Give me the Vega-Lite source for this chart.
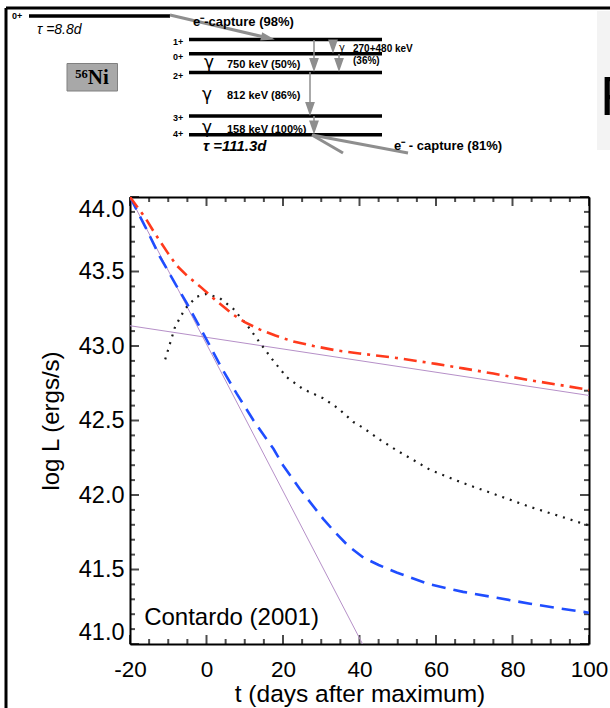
{
  "$schema": "https://vega.github.io/schema/vega-lite/v6.json",
  "autosize": "none",
  "padding": {"left": 130, "top": 197, "right": 21, "bottom": 64},
  "width": 459,
  "height": 447,
  "background": "white",
  "config": {"view": {"stroke": null}, "font": "Liberation Sans", "axis": {"grid": false}},
  "datasets": {
    "curves": [
      {"s": "ni", "t": -20, "L": 44.0}, {"s": "ni", "t": 40.8, "L": 41.0},
      {"s": "co", "t": -20, "L": 43.136}, {"s": "co", "t": 100, "L": 42.668},
      {"s": "tot", "t": -20, "L": 44.0}, {"s": "tot", "t": -16, "L": 43.86}, {"s": "tot", "t": -13.5, "L": 43.755},
      {"s": "tot", "t": -10, "L": 43.62}, {"s": "tot", "t": -7.8, "L": 43.54}, {"s": "tot", "t": -5, "L": 43.47},
      {"s": "tot", "t": -1.7, "L": 43.4}, {"s": "tot", "t": 2.7, "L": 43.3}, {"s": "tot", "t": 7, "L": 43.21},
      {"s": "tot", "t": 10, "L": 43.16}, {"s": "tot", "t": 14, "L": 43.11}, {"s": "tot", "t": 18, "L": 43.07},
      {"s": "tot", "t": 22.7, "L": 43.03}, {"s": "tot", "t": 28, "L": 43.0}, {"s": "tot", "t": 34, "L": 42.97},
      {"s": "tot", "t": 40, "L": 42.95}, {"s": "tot", "t": 49.7, "L": 42.92}, {"s": "tot", "t": 60, "L": 42.88},
      {"s": "tot", "t": 67.1, "L": 42.85}, {"s": "tot", "t": 75, "L": 42.815}, {"s": "tot", "t": 84.6, "L": 42.77},
      {"s": "tot", "t": 92, "L": 42.74}, {"s": "tot", "t": 100, "L": 42.705},
      {"s": "gam", "t": -20, "L": 44.0}, {"s": "gam", "t": -16, "L": 43.8}, {"s": "gam", "t": -12.2, "L": 43.6},
      {"s": "gam", "t": -8, "L": 43.41}, {"s": "gam", "t": -5.2, "L": 43.29}, {"s": "gam", "t": 0.5, "L": 43.02},
      {"s": "gam", "t": 4, "L": 42.85}, {"s": "gam", "t": 7.9, "L": 42.68}, {"s": "gam", "t": 12.3, "L": 42.5},
      {"s": "gam", "t": 17.5, "L": 42.31}, {"s": "gam", "t": 20, "L": 42.2}, {"s": "gam", "t": 24.4, "L": 42.04},
      {"s": "gam", "t": 30.5, "L": 41.84}, {"s": "gam", "t": 33.6, "L": 41.75}, {"s": "gam", "t": 37, "L": 41.66},
      {"s": "gam", "t": 41, "L": 41.58}, {"s": "gam", "t": 45, "L": 41.53}, {"s": "gam", "t": 49.7, "L": 41.48},
      {"s": "gam", "t": 58.4, "L": 41.4}, {"s": "gam", "t": 67.1, "L": 41.35}, {"s": "gam", "t": 75.9, "L": 41.31},
      {"s": "gam", "t": 84.6, "L": 41.27}, {"s": "gam", "t": 92, "L": 41.24}, {"s": "gam", "t": 100, "L": 41.21},
      {"s": "bol", "t": -10.8, "L": 42.91}, {"s": "bol", "t": -9.5, "L": 43.02}, {"s": "bol", "t": -8.2, "L": 43.13},
      {"s": "bol", "t": -5.6, "L": 43.25}, {"s": "bol", "t": -2.6, "L": 43.33}, {"s": "bol", "t": 0, "L": 43.35},
      {"s": "bol", "t": 3.5, "L": 43.32}, {"s": "bol", "t": 7, "L": 43.25}, {"s": "bol", "t": 10.9, "L": 43.13},
      {"s": "bol", "t": 14, "L": 43.02}, {"s": "bol", "t": 17.5, "L": 42.9}, {"s": "bol", "t": 21, "L": 42.79},
      {"s": "bol", "t": 25.3, "L": 42.71}, {"s": "bol", "t": 30.5, "L": 42.65}, {"s": "bol", "t": 34.5, "L": 42.58},
      {"s": "bol", "t": 38.4, "L": 42.49}, {"s": "bol", "t": 41, "L": 42.45}, {"s": "bol", "t": 45.4, "L": 42.37},
      {"s": "bol", "t": 49.7, "L": 42.3}, {"s": "bol", "t": 58.4, "L": 42.17}, {"s": "bol", "t": 67.1, "L": 42.08},
      {"s": "bol", "t": 75.9, "L": 42.0}, {"s": "bol", "t": 84.6, "L": 41.92}, {"s": "bol", "t": 93.3, "L": 41.85},
      {"s": "bol", "t": 100, "L": 41.795}
    ],
    "xmaj": [{"t": -20, "Lb": 41, "Lt": 44}, {"t": 0, "Lb": 41, "Lt": 44}, {"t": 20, "Lb": 41, "Lt": 44}, {"t": 40, "Lb": 41, "Lt": 44},
      {"t": 60, "Lb": 41, "Lt": 44}, {"t": 80, "Lb": 41, "Lt": 44}, {"t": 100, "Lb": 41, "Lt": 44}],
    "xmin": [{"t": -15, "Lb": 41, "Lt": 44}, {"t": -10, "Lb": 41, "Lt": 44}, {"t": -5, "Lb": 41, "Lt": 44},
      {"t": 5, "Lb": 41, "Lt": 44}, {"t": 10, "Lb": 41, "Lt": 44}, {"t": 15, "Lb": 41, "Lt": 44},
      {"t": 25, "Lb": 41, "Lt": 44}, {"t": 30, "Lb": 41, "Lt": 44}, {"t": 35, "Lb": 41, "Lt": 44},
      {"t": 45, "Lb": 41, "Lt": 44}, {"t": 50, "Lb": 41, "Lt": 44}, {"t": 55, "Lb": 41, "Lt": 44},
      {"t": 65, "Lb": 41, "Lt": 44}, {"t": 70, "Lb": 41, "Lt": 44}, {"t": 75, "Lb": 41, "Lt": 44},
      {"t": 85, "Lb": 41, "Lt": 44}, {"t": 90, "Lb": 41, "Lt": 44}, {"t": 95, "Lb": 41, "Lt": 44}],
    "ymaj": [{"L": 41.0, "tl": -20, "tr": 100}, {"L": 41.5, "tl": -20, "tr": 100}, {"L": 42.0, "tl": -20, "tr": 100},
      {"L": 42.5, "tl": -20, "tr": 100}, {"L": 43.0, "tl": -20, "tr": 100}, {"L": 43.5, "tl": -20, "tr": 100},
      {"L": 44.0, "tl": -20, "tr": 100}],
    "ymin": [{"L": 41.1, "tl": -20, "tr": 100}, {"L": 41.2, "tl": -20, "tr": 100}, {"L": 41.3, "tl": -20, "tr": 100},
      {"L": 41.4, "tl": -20, "tr": 100}, {"L": 41.6, "tl": -20, "tr": 100}, {"L": 41.7, "tl": -20, "tr": 100},
      {"L": 41.8, "tl": -20, "tr": 100}, {"L": 41.9, "tl": -20, "tr": 100}, {"L": 42.1, "tl": -20, "tr": 100},
      {"L": 42.2, "tl": -20, "tr": 100}, {"L": 42.3, "tl": -20, "tr": 100}, {"L": 42.4, "tl": -20, "tr": 100},
      {"L": 42.6, "tl": -20, "tr": 100}, {"L": 42.7, "tl": -20, "tr": 100}, {"L": 42.8, "tl": -20, "tr": 100},
      {"L": 42.9, "tl": -20, "tr": 100}, {"L": 43.1, "tl": -20, "tr": 100}, {"L": 43.2, "tl": -20, "tr": 100},
      {"L": 43.3, "tl": -20, "tr": 100}, {"L": 43.4, "tl": -20, "tr": 100}, {"L": 43.6, "tl": -20, "tr": 100},
      {"L": 43.7, "tl": -20, "tr": 100}, {"L": 43.8, "tl": -20, "tr": 100}, {"L": 43.9, "tl": -20, "tr": 100}],
    "notes": [{"t": -16.3, "L": 41.13, "label": "Contardo (2001)"}],
    "levels": [
      {"dx": 29, "dy": 16, "dx2": 170, "dy2": 16},
      {"dx": 189, "dy": 39.5, "dx2": 382, "dy2": 39.5},
      {"dx": 189, "dy": 53.7, "dx2": 382, "dy2": 53.7},
      {"dx": 189, "dy": 72.5, "dx2": 382, "dy2": 72.5},
      {"dx": 189, "dy": 116, "dx2": 382, "dy2": 116},
      {"dx": 189, "dy": 134.7, "dx2": 382, "dy2": 134.7}
    ],
    "frame": [
      {"dx": 6, "dy": 8, "dx2": 612, "dy2": 8},
      {"dx": 6, "dy": 8, "dx2": 6, "dy2": 710}
    ],
    "thin": [
      {"dx": 314, "dy": 40, "dx2": 314, "dy2": 62},
      {"dx": 333, "dy": 40, "dx2": 333, "dy2": 45},
      {"dx": 339, "dy": 54, "dx2": 339, "dy2": 62},
      {"dx": 310, "dy": 72, "dx2": 310, "dy2": 104},
      {"dx": 314, "dy": 116, "dx2": 314, "dy2": 124}
    ],
    "thick": [
      {"dx": 170, "dy": 15, "dx2": 262, "dy2": 36.5},
      {"dx": 312, "dy": 135, "dx2": 343, "dy2": 153},
      {"dx": 312, "dy": 135, "dx2": 408, "dy2": 153}
    ],
    "heads": [
      {"dx": 314, "dy": 65}, {"dx": 333, "dy": 46.5}, {"dx": 339, "dy": 65},
      {"dx": 310, "dy": 109}, {"dx": 314, "dy": 127.5}
    ],
    "diag": [{"dx": 268, "dy": 38}],
    "boxes": [{"dx": 67, "dy": 63.5, "dx2": 117.5, "dy2": 91}],
    "panel": [{"dx": 597, "dy": 11, "dx2": 612, "dy2": 150}],
    "texts": [
      {"g": "lvl", "dx": 17, "dy": 15.5, "txt": "0+"},
      {"g": "lvl", "dx": 178, "dy": 42, "txt": "1+"},
      {"g": "lvl", "dx": 178, "dy": 57, "txt": "0+"},
      {"g": "lvl", "dx": 178, "dy": 76, "txt": "2+"},
      {"g": "lvl", "dx": 178, "dy": 118, "txt": "3+"},
      {"g": "lvl", "dx": 178, "dy": 133.5, "txt": "4+"},
      {"g": "gam", "dx": 209, "dy": 63, "txt": "γ"},
      {"g": "gam", "dx": 207, "dy": 95, "txt": "γ"},
      {"g": "gam", "dx": 207, "dy": 127.5, "txt": "γ"},
      {"g": "gams", "dx": 342, "dy": 48, "txt": "γ"},
      {"g": "en", "dx": 227, "dy": 65, "txt": "750 keV (50%)"},
      {"g": "en", "dx": 227, "dy": 96, "txt": "812 keV (86%)"},
      {"g": "en", "dx": 227, "dy": 129.5, "txt": "158 keV (100%)"},
      {"g": "ens", "dx": 353, "dy": 48.5, "txt": "270+480 keV"},
      {"g": "ens", "dx": 353, "dy": 61, "txt": "(36%)"},
      {"g": "cap", "dx": 193, "dy": 22, "txt": "e⁻-capture (98%)"},
      {"g": "cap", "dx": 394, "dy": 146, "txt": "e⁻ - capture (81%)"},
      {"g": "tau1", "dx": 37, "dy": 30, "txt": "τ  =8.8d"},
      {"g": "tau2", "dx": 203, "dy": 145.5, "txt": "τ  =111.3d"},
      {"g": "ni", "dx": 92, "dy": 77.5, "txt": "⁵⁶Ni"},
      {"g": "big", "dx": 600, "dy": 115, "txt": "F"}
    ]
  },
  "layer": [
    {
      "data": {"name": "curves"},
      "mark": {"type": "point", "opacity": 0},
      "encoding": {
        "x": {"field": "t", "type": "quantitative", "scale": {"domain": [-20, 100], "nice": false, "zero": false},
          "axis": {"orient": "bottom", "values": [-20, 0, 20, 40, 60, 80, 100],
            "labelExpr": "'' + datum.value", "ticks": false, "labelFlush": false,
            "domainColor": "#000", "domainWidth": 2,
            "labelColor": "#000", "labelFontSize": 22.5, "labelPadding": 14, "labelOverlap": false, "labelFont": "Liberation Sans",
            "title": "t (days after maximum)", "titleFontSize": 24.5, "titleFontWeight": "normal", "titleColor": "#000", "titleFont": "Liberation Sans", "titlePadding": 2}},
        "y": {"field": "L", "type": "quantitative", "scale": {"domain": [41, 44], "nice": false, "zero": false},
          "axis": {"orient": "left", "values": [41.0, 41.5, 42.0, 42.5, 43.0, 43.5, 44.0],
            "labelExpr": "format(datum.value, '.1f')", "ticks": false,
            "domainColor": "#000", "domainWidth": 2,
            "labelColor": "#000", "labelFontSize": 23.5, "labelPadding": 6, "labelOverlap": false, "labelFlush": true, "labelFont": "Liberation Sans",
            "title": "log L (ergs/s)", "titleFontSize": 24, "titleFontWeight": "normal", "titleColor": "#000", "titleFont": "Liberation Sans", "titlePadding": 15}}
      }
    },
    {
      "data": {"name": "curves"},
      "mark": {"type": "point", "opacity": 0},
      "encoding": {
        "x": {"field": "t", "type": "quantitative", "scale": {"domain": [-20, 100], "nice": false, "zero": false},
          "axis": {"orient": "top", "values": [-20, 100], "labels": false, "title": null, "ticks": false,
            "domainColor": "#000", "domainWidth": 2}},
        "y": {"field": "L", "type": "quantitative", "scale": {"domain": [41, 44], "nice": false, "zero": false},
          "axis": {"orient": "right", "values": [41, 44], "labels": false, "title": null, "ticks": false,
            "domainColor": "#000", "domainWidth": 2}}
      }
    },
    {
      "data": {"name": "xmaj"},
      "mark": {"type": "tick", "orient": "vertical", "color": "#000", "thickness": 2, "size": 9, "yOffset": -4.5},
      "encoding": {
        "x": {"field": "t", "type": "quantitative", "scale": {"domain": [-20, 100], "nice": false, "zero": false}, "axis": null},
        "y": {"field": "Lb", "type": "quantitative", "scale": {"domain": [41, 44], "nice": false, "zero": false}, "axis": null}
      }
    },
    {
      "data": {"name": "xmaj"},
      "mark": {"type": "tick", "orient": "vertical", "color": "#000", "thickness": 2, "size": 9, "yOffset": 4.5},
      "encoding": {
        "x": {"field": "t", "type": "quantitative", "scale": {"domain": [-20, 100], "nice": false, "zero": false}, "axis": null},
        "y": {"field": "Lt", "type": "quantitative", "scale": {"domain": [41, 44], "nice": false, "zero": false}, "axis": null}
      }
    },
    {
      "data": {"name": "xmin"},
      "mark": {"type": "tick", "orient": "vertical", "color": "#000", "thickness": 2, "size": 5, "yOffset": -2.5},
      "encoding": {
        "x": {"field": "t", "type": "quantitative", "scale": {"domain": [-20, 100], "nice": false, "zero": false}, "axis": null},
        "y": {"field": "Lb", "type": "quantitative", "scale": {"domain": [41, 44], "nice": false, "zero": false}, "axis": null}
      }
    },
    {
      "data": {"name": "xmin"},
      "mark": {"type": "tick", "orient": "vertical", "color": "#000", "thickness": 2, "size": 5, "yOffset": 2.5},
      "encoding": {
        "x": {"field": "t", "type": "quantitative", "scale": {"domain": [-20, 100], "nice": false, "zero": false}, "axis": null},
        "y": {"field": "Lt", "type": "quantitative", "scale": {"domain": [41, 44], "nice": false, "zero": false}, "axis": null}
      }
    },
    {
      "data": {"name": "ymaj"},
      "mark": {"type": "tick", "orient": "horizontal", "color": "#000", "thickness": 2, "size": 9, "xOffset": 4.5},
      "encoding": {
        "y": {"field": "L", "type": "quantitative", "scale": {"domain": [41, 44], "nice": false, "zero": false}, "axis": null},
        "x": {"field": "tl", "type": "quantitative", "scale": {"domain": [-20, 100], "nice": false, "zero": false}, "axis": null}
      }
    },
    {
      "data": {"name": "ymaj"},
      "mark": {"type": "tick", "orient": "horizontal", "color": "#000", "thickness": 2, "size": 9, "xOffset": -4.5},
      "encoding": {
        "y": {"field": "L", "type": "quantitative", "scale": {"domain": [41, 44], "nice": false, "zero": false}, "axis": null},
        "x": {"field": "tr", "type": "quantitative", "scale": {"domain": [-20, 100], "nice": false, "zero": false}, "axis": null}
      }
    },
    {
      "data": {"name": "ymin"},
      "mark": {"type": "tick", "orient": "horizontal", "color": "#000", "thickness": 2, "size": 5, "xOffset": 2.5},
      "encoding": {
        "y": {"field": "L", "type": "quantitative", "scale": {"domain": [41, 44], "nice": false, "zero": false}, "axis": null},
        "x": {"field": "tl", "type": "quantitative", "scale": {"domain": [-20, 100], "nice": false, "zero": false}, "axis": null}
      }
    },
    {
      "data": {"name": "ymin"},
      "mark": {"type": "tick", "orient": "horizontal", "color": "#000", "thickness": 2, "size": 5, "xOffset": -2.5},
      "encoding": {
        "y": {"field": "L", "type": "quantitative", "scale": {"domain": [41, 44], "nice": false, "zero": false}, "axis": null},
        "x": {"field": "tr", "type": "quantitative", "scale": {"domain": [-20, 100], "nice": false, "zero": false}, "axis": null}
      }
    },
    {
      "data": {"name": "curves"},
      "transform": [{"filter": "datum.s === 'ni' || datum.s === 'co'"}],
      "mark": {"type": "line", "color": "#b690c8", "strokeWidth": 1, "clip": true},
      "encoding": {
        "x": {"field": "t", "type": "quantitative", "scale": {"domain": [-20, 100], "nice": false, "zero": false}, "axis": null},
        "y": {"field": "L", "type": "quantitative", "scale": {"domain": [41, 44], "nice": false, "zero": false}, "axis": null},
        "detail": {"field": "s"}
      }
    },
    {
      "data": {"name": "curves"},
      "transform": [{"filter": "datum.s === 'bol'"}],
      "mark": {"type": "line", "color": "#1a1a1a", "strokeWidth": 2.2, "strokeDash": [2, 6], "clip": true},
      "encoding": {
        "x": {"field": "t", "type": "quantitative", "scale": {"domain": [-20, 100], "nice": false, "zero": false}, "axis": null},
        "y": {"field": "L", "type": "quantitative", "scale": {"domain": [41, 44], "nice": false, "zero": false}, "axis": null}
      }
    },
    {
      "data": {"name": "curves"},
      "transform": [{"filter": "datum.s === 'gam'"}],
      "mark": {"type": "line", "color": "#1f4dff", "strokeWidth": 2.6, "strokeDash": [14, 8], "clip": true},
      "encoding": {
        "x": {"field": "t", "type": "quantitative", "scale": {"domain": [-20, 100], "nice": false, "zero": false}, "axis": null},
        "y": {"field": "L", "type": "quantitative", "scale": {"domain": [41, 44], "nice": false, "zero": false}, "axis": null}
      }
    },
    {
      "data": {"name": "curves"},
      "transform": [{"filter": "datum.s === 'tot'"}],
      "mark": {"type": "line", "color": "#ff3a1c", "strokeWidth": 2.6, "strokeDash": [13, 6, 3, 6], "clip": true},
      "encoding": {
        "x": {"field": "t", "type": "quantitative", "scale": {"domain": [-20, 100], "nice": false, "zero": false}, "axis": null},
        "y": {"field": "L", "type": "quantitative", "scale": {"domain": [41, 44], "nice": false, "zero": false}, "axis": null}
      }
    },
    {
      "data": {"name": "notes"},
      "mark": {"type": "text", "align": "left", "baseline": "alphabetic", "fontSize": 24, "font": "Liberation Sans", "color": "#000"},
      "encoding": {
        "x": {"field": "t", "type": "quantitative", "scale": {"domain": [-20, 100], "nice": false, "zero": false}, "axis": null},
        "y": {"field": "L", "type": "quantitative", "scale": {"domain": [41, 44], "nice": false, "zero": false}, "axis": null},
        "text": {"field": "label"}
      }
    },
    {
      "data": {"name": "panel"},
      "mark": {"type": "rect", "color": "#f3f3f3"},
      "encoding": {
        "x": {"field": "dx", "type": "quantitative", "scale": {"domain": [130, 589], "nice": false, "zero": false}, "axis": null},
        "x2": {"field": "dx2"},
        "y": {"field": "dy", "type": "quantitative", "scale": {"domain": [197, 644], "reverse": true, "nice": false, "zero": false}, "axis": null},
        "y2": {"field": "dy2"}
      }
    },
    {
      "data": {"name": "boxes"},
      "mark": {"type": "rect", "color": "#a8a8a8", "stroke": "#808080", "strokeWidth": 1},
      "encoding": {
        "x": {"field": "dx", "type": "quantitative", "scale": {"domain": [130, 589], "nice": false, "zero": false}, "axis": null},
        "x2": {"field": "dx2"},
        "y": {"field": "dy", "type": "quantitative", "scale": {"domain": [197, 644], "reverse": true, "nice": false, "zero": false}, "axis": null},
        "y2": {"field": "dy2"}
      }
    },
    {
      "data": {"name": "levels"},
      "mark": {"type": "rule", "color": "#000", "strokeWidth": 3.5},
      "encoding": {
        "x": {"field": "dx", "type": "quantitative", "scale": {"domain": [130, 589], "nice": false, "zero": false}, "axis": null},
        "x2": {"field": "dx2"},
        "y": {"field": "dy", "type": "quantitative", "scale": {"domain": [197, 644], "reverse": true, "nice": false, "zero": false}, "axis": null},
        "y2": {"field": "dy2"}
      }
    },
    {
      "data": {"name": "frame"},
      "mark": {"type": "rule", "color": "#000", "strokeWidth": 3},
      "encoding": {
        "x": {"field": "dx", "type": "quantitative", "scale": {"domain": [130, 589], "nice": false, "zero": false}, "axis": null},
        "x2": {"field": "dx2"},
        "y": {"field": "dy", "type": "quantitative", "scale": {"domain": [197, 644], "reverse": true, "nice": false, "zero": false}, "axis": null},
        "y2": {"field": "dy2"}
      }
    },
    {
      "data": {"name": "thin"},
      "mark": {"type": "rule", "color": "#8e8e8e", "strokeWidth": 1.5},
      "encoding": {
        "x": {"field": "dx", "type": "quantitative", "scale": {"domain": [130, 589], "nice": false, "zero": false}, "axis": null},
        "x2": {"field": "dx2"},
        "y": {"field": "dy", "type": "quantitative", "scale": {"domain": [197, 644], "reverse": true, "nice": false, "zero": false}, "axis": null},
        "y2": {"field": "dy2"}
      }
    },
    {
      "data": {"name": "thick"},
      "mark": {"type": "rule", "color": "#8e8e8e", "strokeWidth": 3},
      "encoding": {
        "x": {"field": "dx", "type": "quantitative", "scale": {"domain": [130, 589], "nice": false, "zero": false}, "axis": null},
        "x2": {"field": "dx2"},
        "y": {"field": "dy", "type": "quantitative", "scale": {"domain": [197, 644], "reverse": true, "nice": false, "zero": false}, "axis": null},
        "y2": {"field": "dy2"}
      }
    },
    {
      "data": {"name": "heads"},
      "mark": {"type": "point", "filled": true, "shape": "M-0.7,-1L0.7,-1L0,1Z", "size": 196, "color": "#8e8e8e", "opacity": 1},
      "encoding": {
        "x": {"field": "dx", "type": "quantitative", "scale": {"domain": [130, 589], "nice": false, "zero": false}, "axis": null},
        "y": {"field": "dy", "type": "quantitative", "scale": {"domain": [197, 644], "reverse": true, "nice": false, "zero": false}, "axis": null}
      }
    },
    {
      "data": {"name": "diag"},
      "mark": {"type": "point", "filled": true, "shape": "M-1,-0.6L1,0L-1,0.6Z", "size": 196, "angle": 13.4, "color": "#8e8e8e", "opacity": 1},
      "encoding": {
        "x": {"field": "dx", "type": "quantitative", "scale": {"domain": [130, 589], "nice": false, "zero": false}, "axis": null},
        "y": {"field": "dy", "type": "quantitative", "scale": {"domain": [197, 644], "reverse": true, "nice": false, "zero": false}, "axis": null}
      }
    },
    {
      "data": {"name": "texts"},
      "transform": [{"filter": "datum.g === 'lvl'"}],
      "mark": {"type": "text", "fontSize": 9, "fontWeight": "bold", "align": "center", "baseline": "middle", "color": "#000"},
      "encoding": {
        "x": {"field": "dx", "type": "quantitative", "scale": {"domain": [130, 589], "nice": false, "zero": false}, "axis": null},
        "y": {"field": "dy", "type": "quantitative", "scale": {"domain": [197, 644], "reverse": true, "nice": false, "zero": false}, "axis": null},
        "text": {"field": "txt"}
      }
    },
    {
      "data": {"name": "texts"},
      "transform": [{"filter": "datum.g === 'gam'"}],
      "mark": {"type": "text", "fontSize": 17, "font": "DejaVu Sans", "align": "center", "baseline": "middle", "color": "#000"},
      "encoding": {
        "x": {"field": "dx", "type": "quantitative", "scale": {"domain": [130, 589], "nice": false, "zero": false}, "axis": null},
        "y": {"field": "dy", "type": "quantitative", "scale": {"domain": [197, 644], "reverse": true, "nice": false, "zero": false}, "axis": null},
        "text": {"field": "txt"}
      }
    },
    {
      "data": {"name": "texts"},
      "transform": [{"filter": "datum.g === 'gams'"}],
      "mark": {"type": "text", "fontSize": 10, "font": "DejaVu Sans", "align": "center", "baseline": "middle", "color": "#000"},
      "encoding": {
        "x": {"field": "dx", "type": "quantitative", "scale": {"domain": [130, 589], "nice": false, "zero": false}, "axis": null},
        "y": {"field": "dy", "type": "quantitative", "scale": {"domain": [197, 644], "reverse": true, "nice": false, "zero": false}, "axis": null},
        "text": {"field": "txt"}
      }
    },
    {
      "data": {"name": "texts"},
      "transform": [{"filter": "datum.g === 'en'"}],
      "mark": {"type": "text", "fontSize": 11, "fontWeight": "bold", "align": "left", "baseline": "middle", "color": "#000"},
      "encoding": {
        "x": {"field": "dx", "type": "quantitative", "scale": {"domain": [130, 589], "nice": false, "zero": false}, "axis": null},
        "y": {"field": "dy", "type": "quantitative", "scale": {"domain": [197, 644], "reverse": true, "nice": false, "zero": false}, "axis": null},
        "text": {"field": "txt"}
      }
    },
    {
      "data": {"name": "texts"},
      "transform": [{"filter": "datum.g === 'ens'"}],
      "mark": {"type": "text", "fontSize": 10, "fontWeight": "bold", "align": "left", "baseline": "middle", "color": "#000"},
      "encoding": {
        "x": {"field": "dx", "type": "quantitative", "scale": {"domain": [130, 589], "nice": false, "zero": false}, "axis": null},
        "y": {"field": "dy", "type": "quantitative", "scale": {"domain": [197, 644], "reverse": true, "nice": false, "zero": false}, "axis": null},
        "text": {"field": "txt"}
      }
    },
    {
      "data": {"name": "texts"},
      "transform": [{"filter": "datum.g === 'cap'"}],
      "mark": {"type": "text", "fontSize": 13, "fontWeight": "bold", "align": "left", "baseline": "middle", "color": "#000"},
      "encoding": {
        "x": {"field": "dx", "type": "quantitative", "scale": {"domain": [130, 589], "nice": false, "zero": false}, "axis": null},
        "y": {"field": "dy", "type": "quantitative", "scale": {"domain": [197, 644], "reverse": true, "nice": false, "zero": false}, "axis": null},
        "text": {"field": "txt"}
      }
    },
    {
      "data": {"name": "texts"},
      "transform": [{"filter": "datum.g === 'tau1'"}],
      "mark": {"type": "text", "fontSize": 14, "fontStyle": "italic", "align": "left", "baseline": "middle", "color": "#000"},
      "encoding": {
        "x": {"field": "dx", "type": "quantitative", "scale": {"domain": [130, 589], "nice": false, "zero": false}, "axis": null},
        "y": {"field": "dy", "type": "quantitative", "scale": {"domain": [197, 644], "reverse": true, "nice": false, "zero": false}, "axis": null},
        "text": {"field": "txt"}
      }
    },
    {
      "data": {"name": "texts"},
      "transform": [{"filter": "datum.g === 'tau2'"}],
      "mark": {"type": "text", "fontSize": 15, "fontStyle": "italic", "fontWeight": "bold", "align": "left", "baseline": "middle", "color": "#000"},
      "encoding": {
        "x": {"field": "dx", "type": "quantitative", "scale": {"domain": [130, 589], "nice": false, "zero": false}, "axis": null},
        "y": {"field": "dy", "type": "quantitative", "scale": {"domain": [197, 644], "reverse": true, "nice": false, "zero": false}, "axis": null},
        "text": {"field": "txt"}
      }
    },
    {
      "data": {"name": "texts"},
      "transform": [{"filter": "datum.g === 'ni'"}],
      "mark": {"type": "text", "fontSize": 21, "font": "Liberation Serif", "fontWeight": "bold", "align": "center", "baseline": "middle", "color": "#000"},
      "encoding": {
        "x": {"field": "dx", "type": "quantitative", "scale": {"domain": [130, 589], "nice": false, "zero": false}, "axis": null},
        "y": {"field": "dy", "type": "quantitative", "scale": {"domain": [197, 644], "reverse": true, "nice": false, "zero": false}, "axis": null},
        "text": {"field": "txt"}
      }
    },
    {
      "data": {"name": "texts"},
      "transform": [{"filter": "datum.g === 'big'"}],
      "mark": {"type": "text", "fontSize": 56, "align": "left", "baseline": "alphabetic", "color": "#000"},
      "encoding": {
        "x": {"field": "dx", "type": "quantitative", "scale": {"domain": [130, 589], "nice": false, "zero": false}, "axis": null},
        "y": {"field": "dy", "type": "quantitative", "scale": {"domain": [197, 644], "reverse": true, "nice": false, "zero": false}, "axis": null},
        "text": {"field": "txt"}
      }
    }
  ],
  "resolve": {"scale": {"x": "independent", "y": "independent"}}
}
